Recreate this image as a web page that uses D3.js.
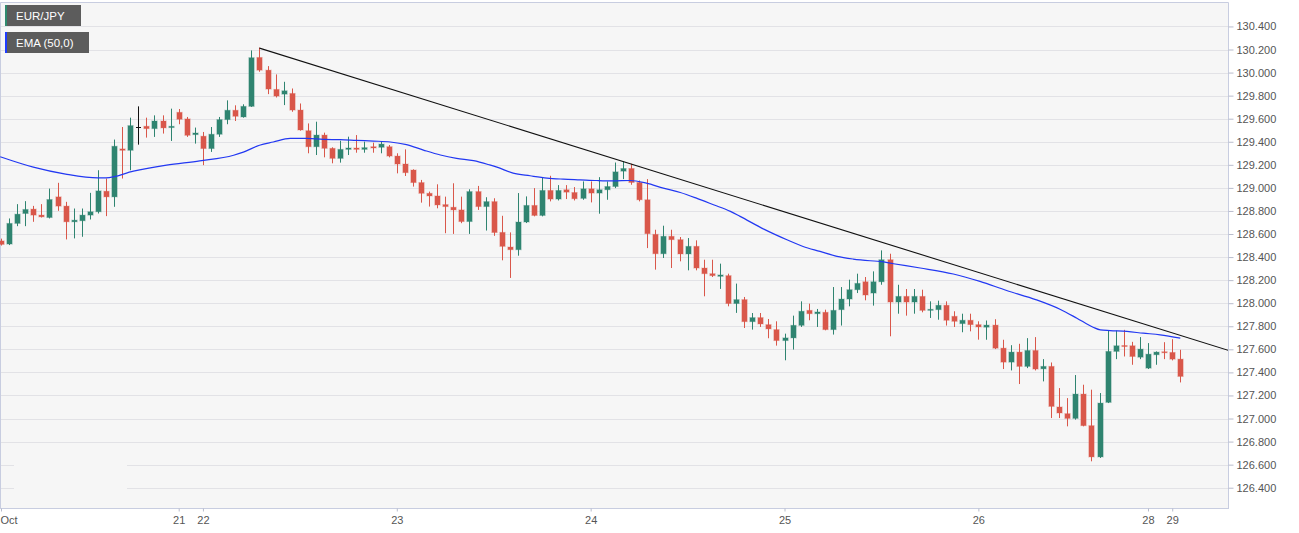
<!DOCTYPE html>
<html>
<head>
<meta charset="utf-8">
<script src="https://cdn.jsdelivr.net/npm/d3@7"></script>
<style>
  body { margin: 0; background: #fff; }
  svg { display: block; font-family: "Liberation Sans", Arial, sans-serif; }
</style>
</head>
<body>
<svg id="chart"></svg>
<script>
// hourly EUR/JPY candles
const opens = [128.54,128.513,128.692,128.778,128.816,128.764,128.743,128.922,128.842,128.706,
  128.715,128.764,128.793,128.971,128.922,129.338,129.326,129.528,129.534,129.514,
  129.580,129.523,129.655,129.598,129.462,129.448,129.341,129.465,129.592,129.673,
  129.615,129.707,130.131,130.021,129.854,129.813,129.819,129.675,129.496,129.357,
  129.458,129.343,129.256,129.334,129.346,129.334,129.357,129.352,129.357,129.276,
  129.207,129.155,129.046,128.953,128.930,128.855,128.832,128.809,128.708,128.968,
  128.838,128.881,128.614,128.487,128.464,128.704,128.848,128.761,128.978,128.903,
  128.984,128.960,128.909,128.992,128.955,128.984,129.012,129.145,129.168,129.047,
  128.897,128.597,128.429,128.580,128.551,128.427,128.493,128.305,128.256,128.233,
  128.239,127.997,128.031,127.840,127.875,127.814,127.771,127.676,127.699,127.808,
  127.938,127.909,127.921,127.771,127.944,128.036,128.117,128.186,128.088,128.186,
  128.377,128.010,128.059,128.010,128.059,127.938,127.944,127.982,127.886,127.823,
  127.852,127.814,127.792,127.810,127.610,127.489,127.576,127.452,127.590,127.431,
  127.452,127.100,127.042,127.001,127.212,126.938,126.667,127.140,127.582,127.633,
  127.631,127.532,127.437,127.553,127.579,127.573,127.515];
const highs = [128.56,128.735,128.859,128.885,128.844,128.859,128.994,129.044,128.879,128.821,
  128.821,128.957,129.153,129.081,129.419,129.528,129.609,129.707,129.609,129.629,
  129.629,129.687,129.684,129.615,129.523,129.485,129.528,129.615,129.759,129.716,
  129.725,130.192,130.217,130.056,129.984,129.920,129.862,129.732,129.559,129.574,
  129.479,129.352,129.409,129.444,129.458,129.401,129.392,129.401,129.372,129.300,
  129.334,129.161,129.069,128.968,129.031,128.924,129.040,128.924,128.988,129.017,
  128.919,128.910,128.758,128.614,128.955,128.926,128.998,129.093,129.105,129.024,
  129.024,129.007,129.056,129.056,129.093,129.056,129.220,129.229,129.209,129.064,
  129.076,128.637,128.672,128.637,128.574,128.565,128.545,128.377,128.377,128.343,
  128.256,128.170,128.054,127.915,127.915,127.863,127.843,127.736,127.892,128.016,
  127.996,127.950,127.944,128.140,128.140,128.204,128.256,128.227,128.276,128.458,
  128.429,128.160,128.123,128.123,128.117,128.016,128.022,128.016,127.930,127.909,
  127.909,127.843,127.850,127.861,127.683,127.636,127.648,127.697,127.706,127.515,
  127.486,127.264,127.177,127.377,127.293,127.250,127.221,127.763,127.763,127.769,
  127.665,127.706,127.654,127.582,127.662,127.688,127.596];
const lows = [128.50,128.504,128.668,128.668,128.706,128.743,128.735,128.801,128.553,128.562,
  128.576,128.726,128.778,128.755,128.836,129.081,129.153,129.375,129.436,129.442,
  129.471,129.407,129.552,129.442,129.384,129.197,129.312,129.442,129.552,129.580,
  129.609,129.702,130.007,129.813,129.784,129.718,129.660,129.496,129.300,129.285,
  129.265,129.213,129.219,129.285,129.305,129.305,129.305,129.300,129.265,129.126,
  129.103,129.011,128.872,128.838,128.823,128.607,128.601,128.694,128.601,128.809,
  128.630,128.584,128.372,128.219,128.412,128.695,128.753,128.753,128.883,128.891,
  128.903,128.891,128.897,128.874,128.776,128.897,128.998,129.076,129.027,128.883,
  128.478,128.291,128.392,128.305,128.363,128.285,128.285,128.060,128.227,128.124,
  127.973,127.916,127.785,127.771,127.794,127.696,127.632,127.505,127.598,127.794,
  127.852,127.794,127.765,127.728,127.806,127.973,128.088,128.025,127.979,128.160,
  127.713,127.909,127.892,127.909,127.921,127.872,127.857,127.806,127.794,127.748,
  127.756,127.684,127.683,127.602,127.429,127.417,127.299,127.437,127.417,127.322,
  127.004,127.004,126.932,126.990,126.932,126.629,126.658,127.134,127.515,127.538,
  127.466,127.515,127.429,127.466,127.515,127.504,127.313];
const closes = [128.51,128.692,128.772,128.813,128.764,128.749,128.899,128.842,128.706,128.720,
  128.764,128.793,128.974,128.922,129.361,129.326,129.540,129.528,129.514,129.580,
  129.520,129.534,129.595,129.456,129.476,129.341,129.465,129.592,129.673,129.621,
  129.707,130.129,130.021,129.857,129.796,129.842,129.675,129.502,129.357,129.458,
  129.343,129.256,129.334,129.346,129.334,129.349,129.346,129.380,129.276,129.207,
  129.132,129.046,128.953,128.930,128.852,128.838,128.809,128.708,128.968,128.838,
  128.881,128.613,128.493,128.464,128.704,128.848,128.761,128.978,128.903,128.978,
  128.963,128.906,128.992,128.955,128.984,129.012,129.139,129.168,129.047,128.897,
  128.603,128.429,128.580,128.551,128.427,128.493,128.305,128.256,128.239,128.245,
  127.997,128.031,127.840,127.875,127.820,127.777,127.676,127.699,127.808,127.930,
  127.909,127.924,127.771,127.938,128.036,128.117,128.172,128.071,128.186,128.377,
  128.010,128.059,128.010,128.059,127.938,127.947,127.982,127.852,127.843,127.852,
  127.814,127.794,127.810,127.610,127.489,127.576,127.452,127.590,127.429,127.452,
  127.105,127.048,127.001,127.212,126.938,126.667,127.134,127.582,127.631,127.628,
  127.538,127.602,127.558,127.576,127.573,127.515,127.365];

// EMA(50) line, points read at candle positions
const emaIdx = [-0.1,4,8,12,13,16.4,20.5,24.6,28.8,30,32,33.7,35.8,37.8,39.9,42,44,46.1,48.2,50.2,
  52.3,54.4,56.4,58.5,60.5,61.4,63.4,65.5,67.6,69.6,71.7,73.8,75.8,77.9,79.9,82,84.1,86.1,88.2,
  90.3,91.5,94.5,97.3,99.3,101.4,103.5,105.5,107.6,108.8,110.5,113.8,117.9,121.2,124.5,128.2,
  131.1,133.2,135.2,136.1,137.3,139.4,141.4,143.5,146];
const emaVal = [129.27,129.18,129.12,129.087,129.087,129.145,129.197,129.234,129.283,129.31,129.37,
  129.398,129.429,129.429,129.421,129.418,129.412,129.406,129.398,129.375,129.328,129.285,129.256,
  129.236,129.199,129.18,129.128,129.105,129.085,129.076,129.07,129.064,129.061,129.064,129.041,
  128.998,128.96,128.911,128.854,128.796,128.753,128.64,128.55,128.492,128.449,128.406,128.383,
  128.368,128.362,128.342,128.305,128.253,128.189,128.11,128.029,127.948,127.87,127.792,127.769,
  127.763,127.755,127.74,127.726,127.697];

// trend line drawn from the high of the 22nd
const trendIdx = [32, 152];
const trendVal = [130.212, 127.59];

const xTickIdx = [0, 22, 25, 49, 73, 97, 121, 142, 145];
const xTickLabels = ["Oct", "21", "22", "23", "24", "25", "26", "28", "29"];
const yTicks = [126.4,126.6,126.8,127.0,127.2,127.4,127.6,127.8,128.0,128.2,128.4,128.6,
  128.8,129.0,129.2,129.4,129.6,129.8,130.0,130.2,130.4];

const width = 1299;
const height = 533;
const plotLeft = 0, plotRight = 1228, plotTop = 2, plotBottom = 508;

const upColor = "#2f8470";
const downColor = "#d9574a";

const svg = d3.select("#chart").attr("width", width).attr("height", height);

const x = d3.scaleLinear().domain([0, 146]).range([1, 1180.3]);
const y = d3.scaleLinear().domain([126.224, 130.612]).range([plotBottom, plotTop]);

svg.append("defs").append("clipPath").attr("id", "plot-clip")
  .append("rect")
  .attr("x", plotLeft).attr("y", plotTop)
  .attr("width", plotRight - plotLeft).attr("height", plotBottom - plotTop);

svg.append("rect")
  .attr("x", plotLeft).attr("y", plotTop)
  .attr("width", plotRight - plotLeft).attr("height", plotBottom - plotTop)
  .attr("fill", "#f6f6f6");

// horizontal grid
svg.append("g")
  .selectAll("line")
  .data(yTicks)
  .enter()
  .append("line")
  .attr("x1", plotLeft).attr("x2", plotRight)
  .attr("y1", (d) => Math.round(y(d)) + 0.5)
  .attr("y2", (d) => Math.round(y(d)) + 0.5)
  .attr("stroke", "#e2e2e6");

// the grid is hidden behind an empty box at the bottom left
svg.append("rect")
  .attr("x", 14).attr("y", 455).attr("width", 113).attr("height", 45)
  .attr("fill", "#f6f6f6");

// border
svg.append("path")
  .attr("d", `M${plotLeft + 0.5},${plotBottom}V${plotTop + 0.5}H${plotRight + 0.5}V${plotBottom}`)
  .attr("fill", "none")
  .attr("stroke", "#c8cde0");

const plot = svg.append("g").attr("clip-path", "url(#plot-clip)");

const candles = opens.map((o, i) => ({
  i: i, o: o, h: highs[i], l: lows[i], c: closes[i]
}));

function candleColor(d) {
  if (d.c === d.o) return "#111";
  return d.c > d.o ? upColor : downColor;
}

const cg = plot.selectAll("g.candle")
  .data(candles)
  .enter()
  .append("g")
  .attr("class", "candle");

cg.append("line")
  .attr("x1", (d) => Math.round(x(d.i)) + 0.5)
  .attr("x2", (d) => Math.round(x(d.i)) + 0.5)
  .attr("y1", (d) => y(d.h))
  .attr("y2", (d) => y(d.l))
  .attr("stroke", candleColor);

cg.append("rect")
  .attr("x", (d) => Math.round(x(d.i)) - 3)
  .attr("y", (d) => y(Math.max(d.o, d.c)) - 0.5)
  .attr("width", 7)
  .attr("height", (d) => Math.max(2, Math.abs(y(d.o) - y(d.c)) + 1))
  .attr("fill", candleColor)
  .attr("opacity", (d) => (d.c === d.o ? 0 : 0.3));

cg.append("rect")
  .attr("x", (d) => Math.round(x(d.i)) - 2)
  .attr("y", (d) => y(Math.max(d.o, d.c)))
  .attr("width", 5)
  .attr("height", (d) => Math.max(1, Math.abs(y(d.o) - y(d.c))))
  .attr("fill", candleColor);

// EMA
const emaLine = d3.line()
  .x((d) => x(d[0]))
  .y((d) => y(d[1]))
  .curve(d3.curveMonotoneX);

plot.append("path")
  .datum(emaIdx.map((d, i) => [d, emaVal[i]]))
  .attr("d", emaLine)
  .attr("fill", "none")
  .attr("stroke", "#2238f2")
  .attr("stroke-width", 1.2);

// trend line
plot.append("line")
  .attr("x1", x(trendIdx[0])).attr("y1", y(trendVal[0]))
  .attr("x2", x(trendIdx[1])).attr("y2", y(trendVal[1]))
  .attr("stroke", "#111")
  .attr("stroke-width", 1.1);

// y axis
const yAxis = d3.axisRight(y)
  .tickValues(yTicks)
  .tickFormat(d3.format(".3f"))
  .tickSize(5)
  .tickPadding(3);

const gy = svg.append("g")
  .attr("transform", `translate(${plotRight + 0.5},0)`)
  .call(yAxis);
gy.select(".domain").remove();
gy.selectAll(".tick line").attr("stroke", "#b8bccc");
gy.selectAll(".tick text")
  .attr("fill", "#555")
  .style("font-size", "11px")
  .style("font-family", '"Liberation Sans", Arial, sans-serif');

// x axis
const xAxis = d3.axisBottom(x)
  .tickValues(xTickIdx)
  .tickFormat((d, i) => xTickLabels[i])
  .tickSize(3)
  .tickPadding(5);

const gx = svg.append("g")
  .attr("transform", `translate(0,${plotBottom + 0.5})`)
  .call(xAxis);
gx.select(".domain")
  .attr("d", `M${plotLeft},0H${plotRight + 1}`)
  .attr("stroke", "#c8cde0");
gx.selectAll(".tick line").attr("stroke", "#b8bccc");
gx.selectAll(".tick text")
  .attr("fill", "#555")
  .style("font-size", "11px")
  .style("font-family", '"Liberation Sans", Arial, sans-serif');
gx.selectAll(".tick")
  .filter((d, i) => i === 0)
  .select("text")
  .attr("text-anchor", "start")
  .attr("x", -1);

// legend boxes
const legendItems = ["EUR/JPY", "EMA (50,0)"];
const legendColors = ["#2f8a6e", "#1f3cff"];
const legendWidths = [76, 84];

const lg = svg.append("g")
  .selectAll("g")
  .data(legendItems)
  .enter()
  .append("g")
  .attr("transform", (d, i) => `translate(5,${5 + i * 27})`);

lg.append("rect")
  .attr("width", (d, i) => legendWidths[i])
  .attr("height", 21)
  .attr("fill", "#5c5c5c");

lg.append("rect")
  .attr("width", 2)
  .attr("height", 21)
  .attr("fill", (d, i) => legendColors[i]);

lg.append("text")
  .attr("x", 11)
  .attr("y", 11)
  .attr("dy", "0.35em")
  .attr("fill", "#fff")
  .style("font-size", "11.5px")
  .text((d) => d);
</script>
</body>
</html>
